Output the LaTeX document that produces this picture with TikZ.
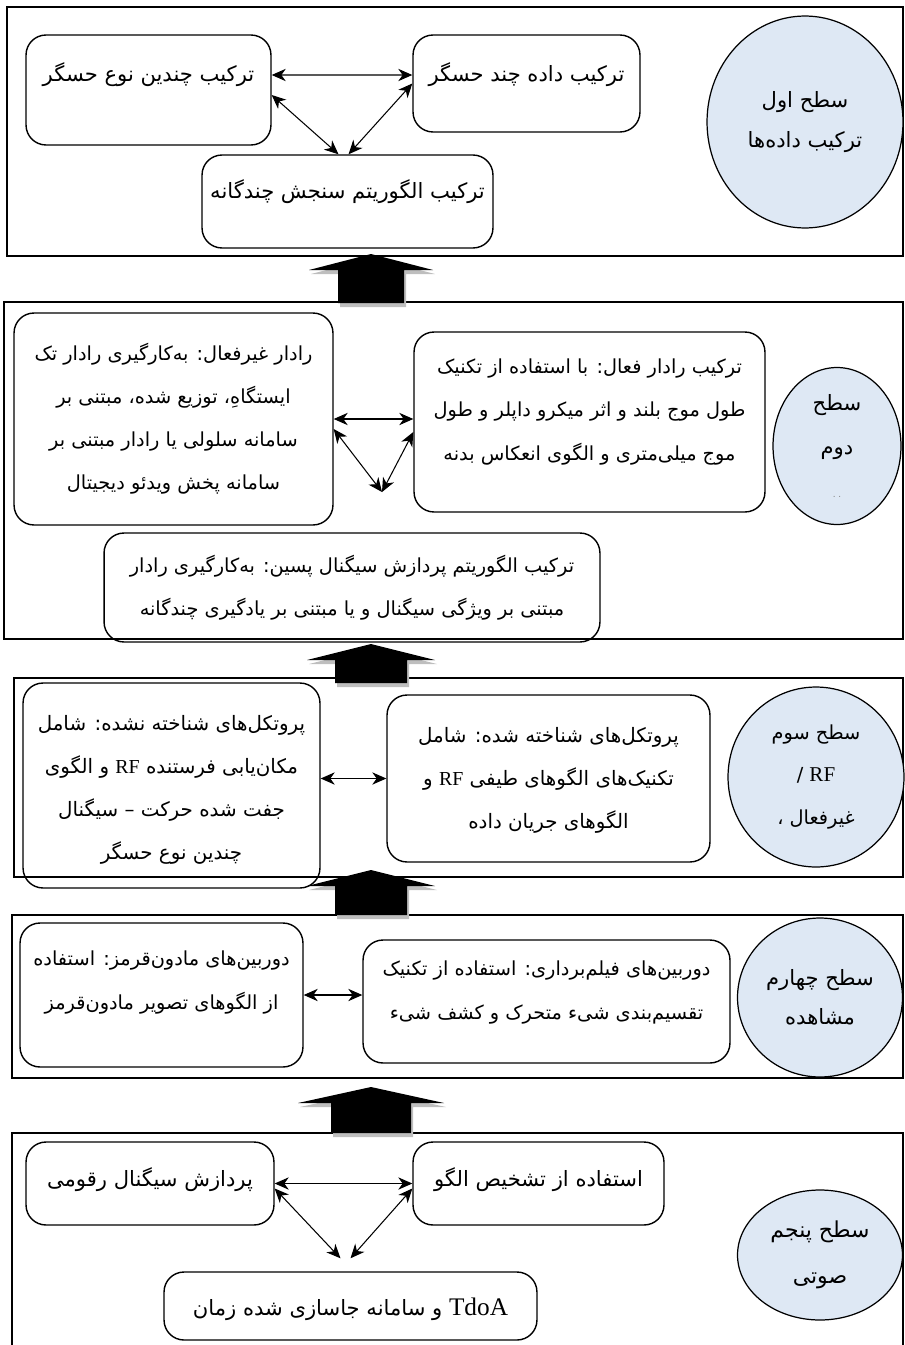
\documentclass[tikz,border=0pt]{standalone}
\usepackage{fontspec}
\newfontfamily\farsi[Script=Arabic]{DejaVu Sans}
\newfontfamily\latinfont{Liberation Serif}
\TeXXeTstate=1
\newcommand{\rtltext}[1]{\beginR #1\endR}
\newcommand{\latword}[1]{\beginL{\latinfont #1}\endL}
\usetikzlibrary{arrows.meta,shapes.geometric}
\definecolor{levelblue}{RGB}{222,232,244}
\definecolor{shadowgray}{RGB}{190,190,190}
\tikzset{
  panel/.style={draw, line width=0.8pt},
  boxnode/.style={rectangle, draw, rounded corners=0.4cm, line width=0.8pt, inner sep=0pt},
  levelnode/.style={ellipse, draw, fill=levelblue, line width=0.7pt, inner sep=0pt, align=center, font=\farsi\fontsize{12}{22.5}\selectfont},
  bigtext/.style={font=\farsi\fontsize{12}{26}\selectfont, align=center, inner sep=0pt},
  midtext/.style={font=\farsi\fontsize{11}{24.5}\selectfont, align=center, inner sep=0pt},
  p3text/.style={font=\farsi\fontsize{11.3}{24.5}\selectfont, align=center, inner sep=0pt},
  p4text/.style={font=\farsi\fontsize{11}{25}\selectfont, align=center, inner sep=0pt},
  link/.style={{Stealth[length=8pt,width=7pt,inset=2.5pt]}-{Stealth[length=8pt,width=7pt,inset=2.5pt]}, line width=0.6pt}
}

\begin{document}
\begin{tikzpicture}[x=0.02cm, y=-0.02cm]
  \useasboundingbox (0,0) rectangle (905,1345);

  % level frames
  \draw[panel] (7,7) rectangle (903,256);
  \draw[panel] (4,302) rectangle (903,639);
  \draw[panel] (14,678) rectangle (903,877);
  \draw[panel] (12,915) rectangle (903,1078);
  \draw[panel] (12,1345) -- (12,1133) -- (903,1133) -- (903,1345);

  % level 1
  \node[boxnode, minimum width=4.9cm, minimum height=2.2cm] (s1left) at (148.5,90) {};
  \node[boxnode, minimum width=4.54cm, minimum height=1.94cm] (s1right) at (526.5,83.5) {};
  \node[boxnode, minimum width=5.82cm, minimum height=1.86cm] (s1bottom) at (347.5,201.5) {};
  \node[bigtext] (s1left-t) at ([yshift=-0.8cm]s1left.north) {\rtltext{ترکیب چندین نوع حسگر}};
  \node[bigtext] (s1right-t) at ([yshift=-0.8cm]s1right.north) {\rtltext{ترکیب داده چند حسگر}};
  \node[bigtext] (s1bottom-t) at ([yshift=-0.74cm]s1bottom.north) {\rtltext{ترکیب الگوریتم سنجش چندگانه}};
  \node[levelnode, minimum width=3.92cm, minimum height=4.24cm] (level1) at (805,122)
    {\rtltext{سطح اول}\\\rtltext{ترکیب داده^^^^200cها}};
  \draw[link] ([yshift=0.3cm]s1left.east) -- ([yshift=0.17cm]s1right.west);
  \draw[link] ([yshift=-0.1cm]s1left.east) -- ([xshift=-0.18cm]s1bottom.north);
  \draw[link] (s1right.west) -- ([xshift=0.02cm]s1bottom.north);

  % level 2
  \node[boxnode, minimum width=6.38cm, minimum height=4.24cm] (s2left) at (173.5,419) {};
  \node[boxnode, minimum width=7.02cm, minimum height=3.6cm] (s2right) at (589.5,422) {};
  \node[boxnode, minimum width=9.92cm, minimum height=2.18cm] (s2bottom) at (352,587.5) {};
  \node[midtext] (s2left-t) at (s2left)
    {\rtltext{رادار غیرفعال: به^^^^200cکارگیری رادار تک}\\\rtltext{ایستگاهِ، توزیع شده، مبتنی بر}\\
     \rtltext{سامانه سلولی یا رادار مبتنی بر}\\\rtltext{سامانه پخش ویدئو دیجیتال}};
  \node[midtext] (s2right-t) at ([yshift=0.2cm]s2right.center)
    {\rtltext{ترکیب رادار فعال: با استفاده از تکنیک}\\\rtltext{طول موج بلند و اثر میکرو داپلر و طول}\\
     \rtltext{موج میلی^^^^200cمتری و الگوی انعکاس بدنه}};
  \node[midtext] (s2bottom-t) at (s2bottom)
    {\rtltext{ترکیب الگوریتم پردازش سیگنال پسین: به^^^^200cکارگیری رادار}\\
     \rtltext{مبتنی بر ویژگی سیگنال و یا مبتنی بر یادگیری چندگانه}};
  \node[levelnode, minimum width=2.56cm, minimum height=3.14cm, font=\farsi\fontsize{12}{25}\selectfont] (level2) at (837,446)
    {\rtltext{سطح}\\\rtltext{دوم}\\{\color{gray}\tiny .\,\,.}};
  \coordinate (s2tip) at (382,492);
  \draw[link] (s2left.east) -- (s2left.east -| s2right.west);
  \draw[link] ([yshift=-0.2cm]s2left.east) -- (s2tip);
  \draw[link] ([yshift=-0.2cm]s2right.west) -- (s2tip);

  % level 3
  \node[boxnode, minimum width=5.94cm, minimum height=4.1cm] (s3left) at (171.5,785.5) {};
  \node[boxnode, minimum width=6.46cm, minimum height=3.34cm] (s3right) at (548.5,778.5) {};
  \node[p3text] (s3left-t) at ([yshift=-0.09cm]s3left.center)
    {\rtltext{پروتکل^^^^200cهای شناخته نشده: شامل}\\\rtltext{مکان^^^^200cیابی فرستنده \latword{RF} و الگوی}\\
     \rtltext{جفت شده حرکت – سیگنال}\\\rtltext{چندین نوع حسگر}};
  \node[p3text] (s3right-t) at ([yshift=-0.04cm]s3right.center)
    {\rtltext{پروتکل^^^^200cهای شناخته شده: شامل}\\\rtltext{تکنیک^^^^200cهای الگوهای طیفی \latword{RF} و}\\
     \rtltext{الگوهای جریان داده}};
  \node[levelnode, minimum width=3.52cm, minimum height=3.6cm, font=\farsi\fontsize{11}{24}\selectfont] (level3) at (816,777)
    {\rtltext{سطح سوم}\\\rtltext{{\large\latword{RF}} /}\\\rtltext{غیرفعال ،}};
  \draw[link] (s3right.west -| s3left.east) -- (s3right.west);

  % level 4
  \node[boxnode, minimum width=5.66cm, minimum height=2.88cm] (s4left) at (161.5,995) {};
  \node[boxnode, minimum width=7.34cm, minimum height=2.46cm] (s4right) at (546.5,1001.5) {};
  \node[p4text] (s4left-t) at ([yshift=-1.2cm]s4left.north)
    {\rtltext{دوربین^^^^200cهای مادون^^^^200cقرمز: استفاده}\\\rtltext{از الگوهای تصویر مادون^^^^200cقرمز}};
  \node[p4text] (s4right-t) at ([yshift=-1.07cm]s4right.north)
    {\rtltext{دوربین^^^^200cهای فیلم^^^^200cبرداری: استفاده از تکنیک}\\\rtltext{تقسیم^^^^200cبندی شیء متحرک و کشف شیء}};
  \node[levelnode, minimum width=3.3cm, minimum height=3.18cm] (level4) at (820,997.5)
    {\rtltext{سطح چهارم}\\\rtltext{مشاهده}};
  \draw[link] (s4left.east) -- (s4left.east -| s4right.west);

  % level 5
  \node[boxnode, minimum width=4.96cm, minimum height=1.66cm] (s5left) at (150,1183.5) {};
  \node[boxnode, minimum width=5.02cm, minimum height=1.66cm] (s5right) at (538.5,1183.5) {};
  \node[boxnode, minimum width=7.46cm, minimum height=1.36cm] (s5bottom) at (350.5,1306) {};
  \node[bigtext] (s5left-t) at ([yshift=-0.76cm]s5left.north) {\rtltext{پردازش سیگنال رقومی}};
  \node[bigtext] (s5right-t) at ([yshift=-0.76cm]s5right.north) {\rtltext{استفاده از تشخیص الگو}};
  \node[bigtext] (s5bottom-t) at ([yshift=-0.76cm]s5bottom.north)
    {\rtltext{{\Large\latword{TdoA}} و سامانه جاسازی شده زمان}};
  \node[levelnode, minimum width=3.3cm, minimum height=2.6cm, font=\farsi\fontsize{12.5}{26.5}\selectfont] (level5) at (820,1255)
    {\rtltext{سطح پنجم}\\\rtltext{صوتی}};
  \draw[link] (s5left.east) -- (s5right.west);
  \draw[link] ([yshift=-0.1cm]s5left.east) -- ([xshift=-0.2cm,yshift=0.26cm]s5bottom.north);
  \draw[link] ([yshift=-0.1cm]s5right.west) -- ([yshift=0.26cm]s5bottom.north);

  % block arrows between levels
  \foreach \ytop/\ybot/\hw/\sw in {254/303/62/33, 644/683/64/36, 870/915/64/36, 1087/1133/73/40}{
    \fill[shadowgray, shift={(2,4)}] (371,\ytop) -- (371+\hw,\ytop+16) -- (371+\sw,\ytop+16) -- (371+\sw,\ybot)
      -- (371-\sw,\ybot) -- (371-\sw,\ytop+16) -- (371-\hw,\ytop+16) -- cycle;
    \fill[black] (371,\ytop) -- (371+\hw,\ytop+16) -- (371+\sw,\ytop+16) -- (371+\sw,\ybot)
      -- (371-\sw,\ybot) -- (371-\sw,\ytop+16) -- (371-\hw,\ytop+16) -- cycle;
  }
\end{tikzpicture}
\end{document}
